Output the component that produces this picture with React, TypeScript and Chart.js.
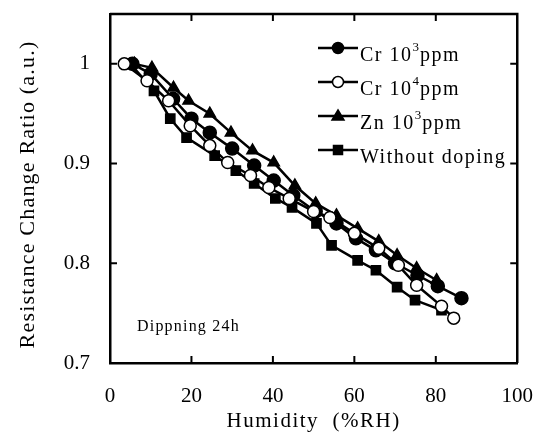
import React, { useEffect, useRef } from "react";
import { Chart, registerables } from "chart.js";
Chart.register(...registerables);

// Data
const cr3X = [5.5, 10, 15.5, 20, 24.5, 30, 35.4, 40.2, 45, 50.5, 55.6, 60.4, 65.3, 70, 75.5, 80.5, 86.3];
const cr3Y = [1.0, 0.99, 0.965, 0.945, 0.931, 0.915, 0.898, 0.883, 0.868, 0.852, 0.84, 0.825, 0.813, 0.8, 0.788, 0.777, 0.765];

const cr4X = [3.5, 9.1, 14.4, 19.7, 24.5, 28.9, 34.5, 39, 44, 50, 54, 60, 66, 70.8, 75.3, 81.4, 84.4];
const cr4Y = [1.0, 0.983, 0.963, 0.938, 0.918, 0.901, 0.888, 0.876, 0.865, 0.852, 0.846, 0.83, 0.815, 0.798, 0.778, 0.757, 0.745];

const znX = [6, 10.3, 15.6, 19.3, 24.5, 29.7, 35, 40.2, 45.4, 50.5, 55.6, 60.8, 66, 70.5, 75.3, 80.2];
const znY = [1.0, 0.996, 0.976, 0.963, 0.95, 0.931, 0.913, 0.901, 0.878, 0.86, 0.848, 0.835, 0.822, 0.808, 0.795, 0.783];

const noneX = [5, 10.8, 14.8, 18.8, 25.7, 30.9, 35.4, 40.6, 44.7, 50.7, 54.4, 60.8, 65.3, 70.5, 74.9, 81.4];
const noneY = [1.0, 0.973, 0.945, 0.926, 0.908, 0.893, 0.88, 0.865, 0.856, 0.84, 0.818, 0.803, 0.793, 0.776, 0.763, 0.753];

const xTicks = [0, 20, 40, 60, 80, 100];
const yTicks = [0.7, 0.8, 0.9, 1.0];

const legendItems = [
  { base: "Cr 10", sup: "3", tail: "ppm", style: "circle", fill: "#000" },
  { base: "Cr 10", sup: "4", tail: "ppm", style: "circle", fill: "#fff" },
  { base: "Zn 10", sup: "3", tail: "ppm", style: "triangle", fill: "#000" },
  { base: "Without doping", sup: "", tail: "", style: "rect", fill: "#000" },
];

const FONT = "'Liberation Serif', 'Times New Roman', serif";

function pts(xs: number[], ys: number[]) {
  return xs.map((x, i) => ({ x, y: ys[i] }));
}

const decorPlugin = {
  id: "decor",
  afterDraw(chart: any) {
    const ctx = chart.ctx as CanvasRenderingContext2D;
    const a = chart.chartArea;
    const xs = chart.scales.x;
    const ys = chart.scales.y;
    ctx.save();
    ctx.strokeStyle = "#000";
    ctx.lineWidth = 2.5;
    // top and right frame
    ctx.beginPath();
    ctx.moveTo(a.left, a.top);
    ctx.lineTo(a.right, a.top);
    ctx.lineTo(a.right, a.bottom);
    ctx.stroke();
    // inward ticks
    ctx.lineWidth = 2;
    const tl = 7;
    xTicks.forEach((v) => {
      if (v === 0 || v === 100) return;
      const px = xs.getPixelForValue(v);
      ctx.beginPath();
      ctx.moveTo(px, a.bottom);
      ctx.lineTo(px, a.bottom - tl);
      ctx.moveTo(px, a.top);
      ctx.lineTo(px, a.top + tl);
      ctx.stroke();
    });
    yTicks.forEach((v) => {
      if (v === 0.7) return;
      const py = ys.getPixelForValue(v);
      ctx.beginPath();
      ctx.moveTo(a.left, py);
      ctx.lineTo(a.left + tl, py);
      ctx.moveTo(a.right, py);
      ctx.lineTo(a.right - tl, py);
      ctx.stroke();
    });

    // axis titles
    ctx.fillStyle = "#000";
    (ctx as any).letterSpacing = "1.5px";
    ctx.font = `21px ${FONT}`;
    ctx.textAlign = "center";
    ctx.textBaseline = "middle";
    ctx.fillText("Humidity  (%RH)", (a.left + a.right) / 2, 421);
    ctx.save();
    ctx.translate(28, (a.top + a.bottom) / 2 + 6);
    ctx.rotate(-Math.PI / 2);
    (ctx as any).letterSpacing = "1.2px";
    ctx.font = `22px ${FONT}`;
    ctx.fillText("Resistance Change Ratio (a.u.)", 0, 0);
    ctx.restore();

    // annotation
    (ctx as any).letterSpacing = "1.2px";
    ctx.font = `16px ${FONT}`;
    ctx.textAlign = "left";
    ctx.textBaseline = "alphabetic";
    ctx.fillText("Dippning 24h", a.left + 27, a.bottom - 32);

    // legend
    const lx0 = a.left + 208;
    const lx1 = lx0 + 40;
    const tx = lx1 + 2;
    legendItems.forEach((it, i) => {
      const y = a.top + 34 + i * 34;
      ctx.lineWidth = 2.5;
      ctx.strokeStyle = "#000";
      ctx.beginPath();
      ctx.moveTo(lx0, y);
      ctx.lineTo(lx1, y);
      ctx.stroke();
      const mx = (lx0 + lx1) / 2;
      ctx.fillStyle = it.fill;
      ctx.lineWidth = 1.5;
      ctx.beginPath();
      if (it.style === "circle") {
        ctx.arc(mx, y, 5.5, 0, Math.PI * 2);
      } else if (it.style === "triangle") {
        ctx.moveTo(mx, y - 6);
        ctx.lineTo(mx + 6, y + 4);
        ctx.lineTo(mx - 6, y + 4);
        ctx.closePath();
      } else {
        ctx.rect(mx - 4.5, y - 4.5, 9, 9);
      }
      ctx.fill();
      ctx.stroke();
      ctx.fillStyle = "#000";
      (ctx as any).letterSpacing = "1.5px";
      ctx.font = `20px ${FONT}`;
      ctx.textBaseline = "alphabetic";
      const by = y + 13;
      let cx = tx;
      ctx.fillText(it.base, cx, by);
      cx += ctx.measureText(it.base).width;
      if (it.sup) {
        (ctx as any).letterSpacing = "0px";
        ctx.font = `13px ${FONT}`;
        ctx.fillText(it.sup, cx, by - 10);
        cx += ctx.measureText(it.sup).width + 1;
        (ctx as any).letterSpacing = "1.5px";
        ctx.font = `20px ${FONT}`;
        ctx.fillText(it.tail, cx, by);
      }
    });
    ctx.restore();
  },
};

export default function App() {
  const ref = useRef<HTMLCanvasElement>(null);
  useEffect(() => {
    document.body.style.margin = "0";
    const common = {
      borderColor: "#000",
      borderWidth: 2.5,
      pointBorderColor: "#000",
      pointBorderWidth: 1.5,
      tension: 0,
    };
    const chart = new Chart(ref.current!, {
      type: "line",
      data: {
        datasets: [
          {
            ...common,
            label: "Cr 10^4 ppm",
            data: pts(cr4X, cr4Y),
            pointStyle: "circle",
            pointRadius: 6,
            pointBackgroundColor: "#fff",
          },
          {
            ...common,
            label: "Cr 10^3 ppm",
            data: pts(cr3X, cr3Y),
            pointStyle: "circle",
            pointRadius: 6.5,
            pointBackgroundColor: "#000",
          },
          {
            ...common,
            label: "Zn 10^3 ppm",
            data: pts(znX, znY),
            pointStyle: "triangle",
            pointRadius: 6.5,
            pointBackgroundColor: "#000",
          },
          {
            ...common,
            label: "Without doping",
            data: pts(noneX, noneY),
            pointStyle: "rect",
            pointRadius: 6.5,
            pointBackgroundColor: "#000",
          },
        ],
      } as any,
      options: {
        animation: false,
        responsive: false,
        maintainAspectRatio: false,
        layout: { padding: { top: 14, right: 23, left: 0, bottom: 0 } },
        plugins: { legend: { display: false }, tooltip: { enabled: false } },
        scales: {
          x: {
            type: "linear",
            min: 0,
            max: 100,
            grid: { display: false },
            border: { display: true, color: "#000", width: 2.5 },
            afterBuildTicks: (s: any) => {
              s.ticks = xTicks.map((v) => ({ value: v }));
            },
            afterFit: (s: any) => {
              s.height = 74;
            },
            ticks: {
              color: "#000",
              font: { family: FONT, size: 21 },
              padding: 13,
              maxRotation: 0,
              callback: (v: any) => String(v),
            },
          },
          y: {
            type: "linear",
            min: 0.7,
            max: 1.05,
            grid: { display: false },
            border: { display: true, color: "#000", width: 2.5 },
            afterBuildTicks: (s: any) => {
              s.ticks = yTicks.map((v) => ({ value: v }));
            },
            afterFit: (s: any) => {
              s.width = 110;
              s.paddingTop = 0;
              s.paddingBottom = 0;
            },
            ticks: {
              color: "#000",
              font: { family: FONT, size: 21 },
              padding: 12,
              callback: (v: any) => (Math.abs(v - 1) < 1e-9 ? "1" : Number(v).toFixed(1)),
            },
          },
        },
      } as any,
      plugins: [decorPlugin],
    });
    return () => chart.destroy();
  }, []);
  return (
    <div style={{ position: "fixed", left: 0, top: 0, width: 546, height: 437 }}>
      <canvas ref={ref} width={546} height={437} style={{ width: 546, height: 437 }} />
    </div>
  );
}
